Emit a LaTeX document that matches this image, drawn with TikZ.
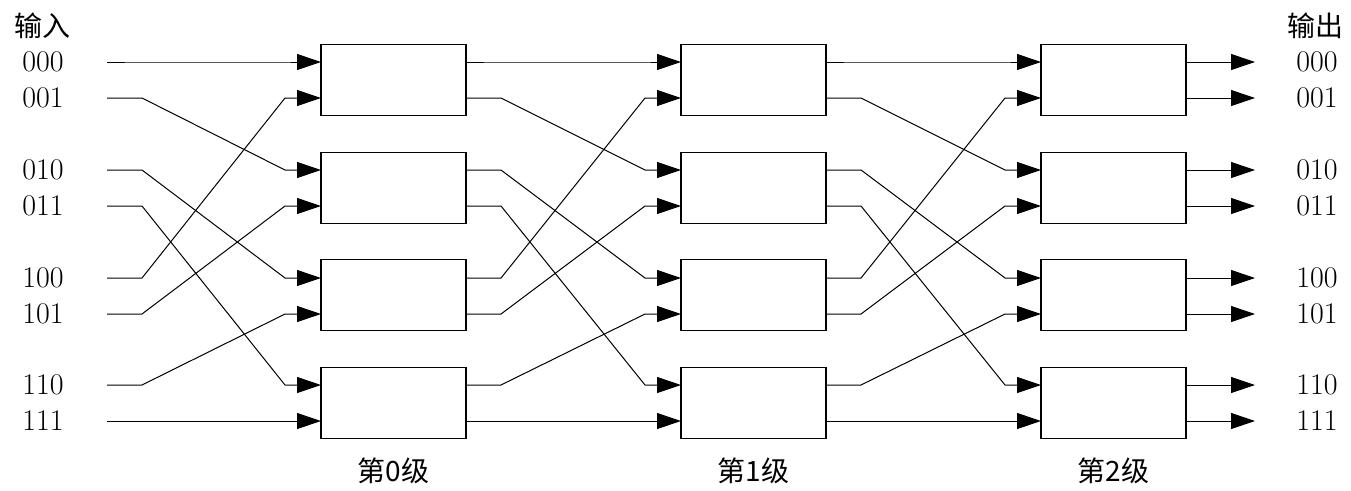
\documentclass[tikz,border=0pt]{standalone}
\usepackage{fontspec}
\newfontfamily\digitfont{Latin Modern Roman}
\newfontfamily\cjk{Noto Sans CJK SC}
\usetikzlibrary{arrows.meta,calc}
\begin{document}
\begin{tikzpicture}[x=0.75pt,y=-0.75pt,
  wire/.style={line width=0.75pt,-{Triangle[length=18pt,width=12pt]}},
  swbox/.style={draw,line width=0.8pt,minimum width=108.75pt,minimum height=53.5pt,inner sep=0pt},
  lbl/.style={font=\digitfont\fontsize{22.5}{22.5}\selectfont,inner sep=0pt},
  clbl/.style={font=\cjk\fontsize{21}{21}\selectfont,inner sep=0pt}]
\useasboundingbox (0,0) rectangle (1351,490);
% boxes and ports
\foreach \s in {0,1,2}{
  \foreach \b/\yc in {0/80,1/188,2/295,3/403}{
    \node[swbox] (s\s b\b) at (393.5+360*\s,\yc) {};
  }
  \node[clbl] (st\s) at (393.5+360*\s,471) {第\s 级};
}
\foreach \k/\y in {0/62,1/98,2/170,3/206,4/278,5/314,6/385,7/421}{
  \foreach \s in {0,1,2}{
    \coordinate (s\s i\k) at (321+360*\s,\y);
    \coordinate (s\s o\k) at (466+360*\s,\y);
  }
}
% headings
\node[clbl] (inhead) at (42,26) {输入};
\node[clbl] (outhead) at (1315,26) {输出};
% labels
\foreach \k/\y/\t in {0/62/000,1/98/001,2/170/010,3/206/011,4/278/100,5/314/101,6/385/110,7/421/111}{
  \node[lbl] (lab\k) at (43,\y) {\t};
  \coordinate (in\k) at (107,\y);
  \node[lbl] (olab\k) at (1317,\y) {\t};
}
% shuffle connections
\foreach \a/\b in {0/0,1/2,2/4,3/6,4/1,5/3,6/5,7/7}{
  \draw[wire] (in\a) -- ++(35,0) -- ($(s0i\b)+(-36,0)$) -- (s0i\b);
  \draw[wire] (s0o\a) -- ++(35,0) -- ($(s1i\b)+(-36,0)$) -- (s1i\b);
  \draw[wire] (s1o\a) -- ++(35,0) -- ($(s2i\b)+(-36,0)$) -- (s2i\b);
}
% outputs
\foreach \k in {0,...,7}{
  \draw[wire] (s2o\k) -- ++(69,0) coordinate (out\k);
}
\end{tikzpicture}
\end{document}
